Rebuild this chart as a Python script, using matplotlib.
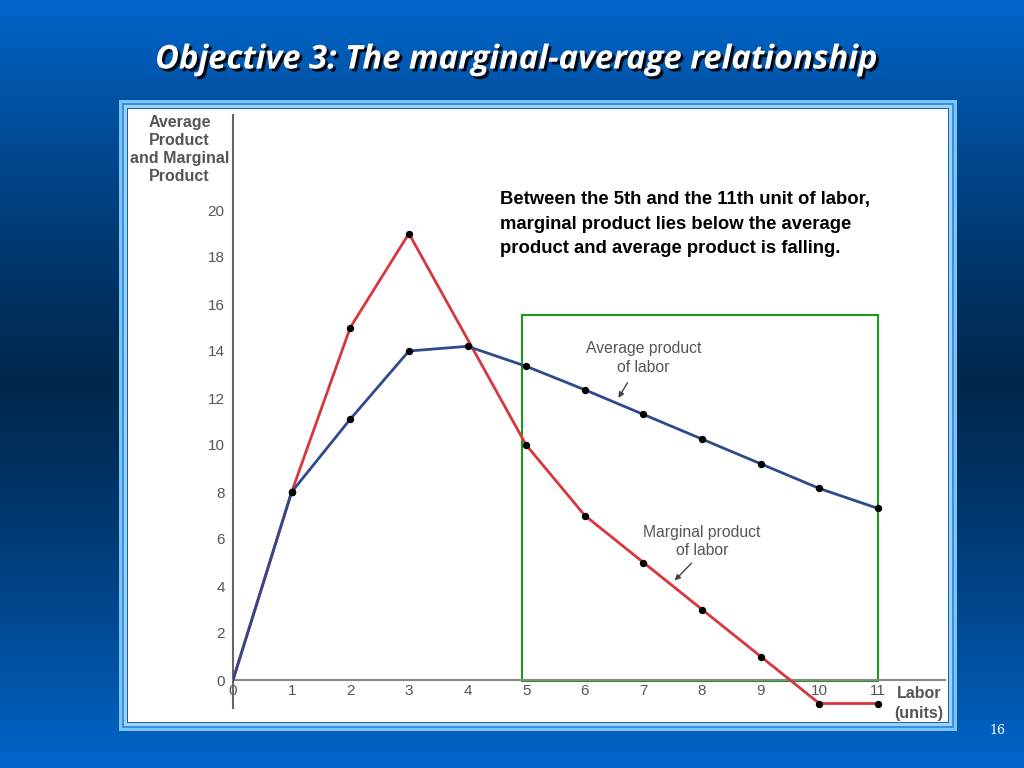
import numpy as np
import matplotlib
matplotlib.use("Agg")
import matplotlib.pyplot as plt
from matplotlib.patches import Rectangle
import matplotlib.patheffects as pe

# ---- data ----
labor = [0, 1, 2, 3, 4, 5, 6, 7, 8, 9, 10, 11]
average_product = [0, 8, 11.1, 14.0, 14.2, 13.35, 12.35, 11.3, 10.25, 9.2, 8.15, 7.3]
marginal_product = [0, 8, 15, 19, 14.5, 10, 7, 5, 3, 1, -1, -1]
mp_marker_idx = [1, 2, 3, 5, 6, 7, 8, 9, 10, 11]
ap_marker_idx = [1, 2, 3, 4, 5, 6, 7, 8, 9, 10, 11]
x_ticks = list(range(12))
y_ticks = list(range(0, 21, 2))
title = "Objective 3: The marginal-average relationship"
note = ("Between the 5th and the 11th unit of labor,\n"
        "marginal product lies below the average\n"
        "product and average product is falling.")

W, H = 1024, 768
fig = plt.figure(figsize=(W / 100, H / 100), dpi=100)

# ---- background gradient ----
bg = fig.add_axes([0, 0, 1, 1])
t = np.linspace(0, 1, 256)
top = np.array([0.0, 0.40, 0.80])
mid = np.array([0.0, 0.16, 0.31])
w = np.abs(t - 0.5) * 2
w = w ** 1.3
cols = mid[None, :] * (1 - w[:, None]) + top[None, :] * w[:, None]
img = np.repeat(cols[:, None, :], 4, axis=1)
bg.imshow(img, aspect="auto", extent=[0, 1, 0, 1], origin="upper")
bg.set_xlim(0, 1)
bg.set_ylim(0, 1)
bg.axis("off")


def fx(px):
    return px / W


def fy(py):
    return 1 - py / H


def prect(x0, y0, x1, y1, **kw):
    bg.add_patch(Rectangle((fx(x0), fy(y1)), fx(x1) - fx(x0), fy(y0) - fy(y1),
                           transform=bg.transAxes, **kw))

prect(119, 100, 957, 731, facecolor="#7cc4f4", edgecolor="none")
prect(122, 103, 954, 728, facecolor="#3a8fe0", edgecolor="none")
prect(124, 105, 952, 726, facecolor="#9ad4f8", edgecolor="none")
prect(127, 108, 949, 723, facecolor="#1e5fa8", edgecolor="none")
prect(128, 109, 948, 722, facecolor="white", edgecolor="none")

# title
bg.text(fx(516), fy(60), title, transform=bg.transAxes, ha="center", va="center",
        fontsize=23.6, fontweight="bold", fontstyle="italic", family="Open Sans",
        color="white",
        path_effects=[pe.withSimplePatchShadow(offset=(2, -2), shadow_rgbFace="black", alpha=0.9)])

bg.text(fx(997), fy(731), "16", transform=bg.transAxes, ha="center", va="center",
        fontsize=9, color="white", family="DejaVu Serif")

# ---- main axes ----
x0px, x1px = 233, 945
y0px, y1px = 115, 708
ppx = (878 - 233) / 11.0
ppy = (680 - 210) / 20.0
ax = fig.add_axes([fx(x0px), fy(y1px), (x1px - x0px) / W, (y1px - y0px) / H])
ax.set_xlim(0, (x1px - x0px) / ppx)
ax.set_ylim((680 - y1px) / ppy, (680 - y0px) / ppy)
ax.patch.set_alpha(0)
for s in ["top", "right"]:
    ax.spines[s].set_visible(False)
ax.spines["left"].set_color("#666666")
ax.spines["left"].set_linewidth(1.5)
ax.spines["bottom"].set_position(("data", 0))
ax.spines["bottom"].set_color("#888888")
ax.spines["bottom"].set_linewidth(1.5)
ax.set_xticks(x_ticks)
ax.set_yticks(y_ticks)
ax.tick_params(axis="both", length=0, labelsize=11, labelcolor="#555555")
ax.tick_params(axis="y", pad=6)
ax.tick_params(axis="x", pad=3)
for lab in ax.get_xticklabels() + ax.get_yticklabels():
    lab.set_family("Liberation Sans")

gray = "#555555"
ax.plot(labor, marginal_product, color="#d8363c", lw=2, zorder=3)
ax.plot(labor, average_product, color="#2e4a8c", lw=2, zorder=3)
ax.plot([labor[i] for i in mp_marker_idx], [marginal_product[i] for i in mp_marker_idx],
        "o", color="black", ms=4.3, zorder=4)
ax.plot([labor[i] for i in ap_marker_idx], [average_product[i] for i in ap_marker_idx],
        "o", color="black", ms=4.3, zorder=4)

# green box
ax.add_patch(Rectangle((4.93, -0.05), 6.07, 15.6, fill=False, edgecolor="#1a9a1a", lw=1.5, zorder=2))

# curve labels
ax.text(7.0, 13.7, "Average product\nof labor", ha="center", va="center", fontsize=11.3,
        color=gray, family="Liberation Sans", linespacing=1.28)
ax.annotate("", xy=(6.55, 11.9), xytext=(6.75, 12.75),
            arrowprops=dict(arrowstyle="-|>", color="#444444", lw=1, mutation_scale=8))
ax.text(8.0, 5.9, "Marginal product\nof labor", ha="center", va="center", fontsize=11.3,
        color=gray, family="Liberation Sans", linespacing=1.28)
ax.annotate("", xy=(7.5, 4.15), xytext=(7.85, 5.05),
            arrowprops=dict(arrowstyle="-|>", color="#444444", lw=1, mutation_scale=8))

# axis titles
ax.text(-0.91, 24.05, "Average\nProduct\nand Marginal\nProduct", ha="center", va="top",
        fontsize=11.5, fontweight="bold", color=gray, family="Liberation Sans",
        linespacing=1.25)
ax.text(11.7, -1.0, "Labor\n(units)", ha="center", va="center", fontsize=11.5,
        fontweight="bold", color=gray, family="Liberation Sans", linespacing=1.35)

# note
ax.text(4.55, 20.8, note, ha="left", va="top", fontsize=13.3, fontweight="bold",
        color="black", family="Liberation Sans", linespacing=1.58)

fig.savefig("out.png", dpi=100)
